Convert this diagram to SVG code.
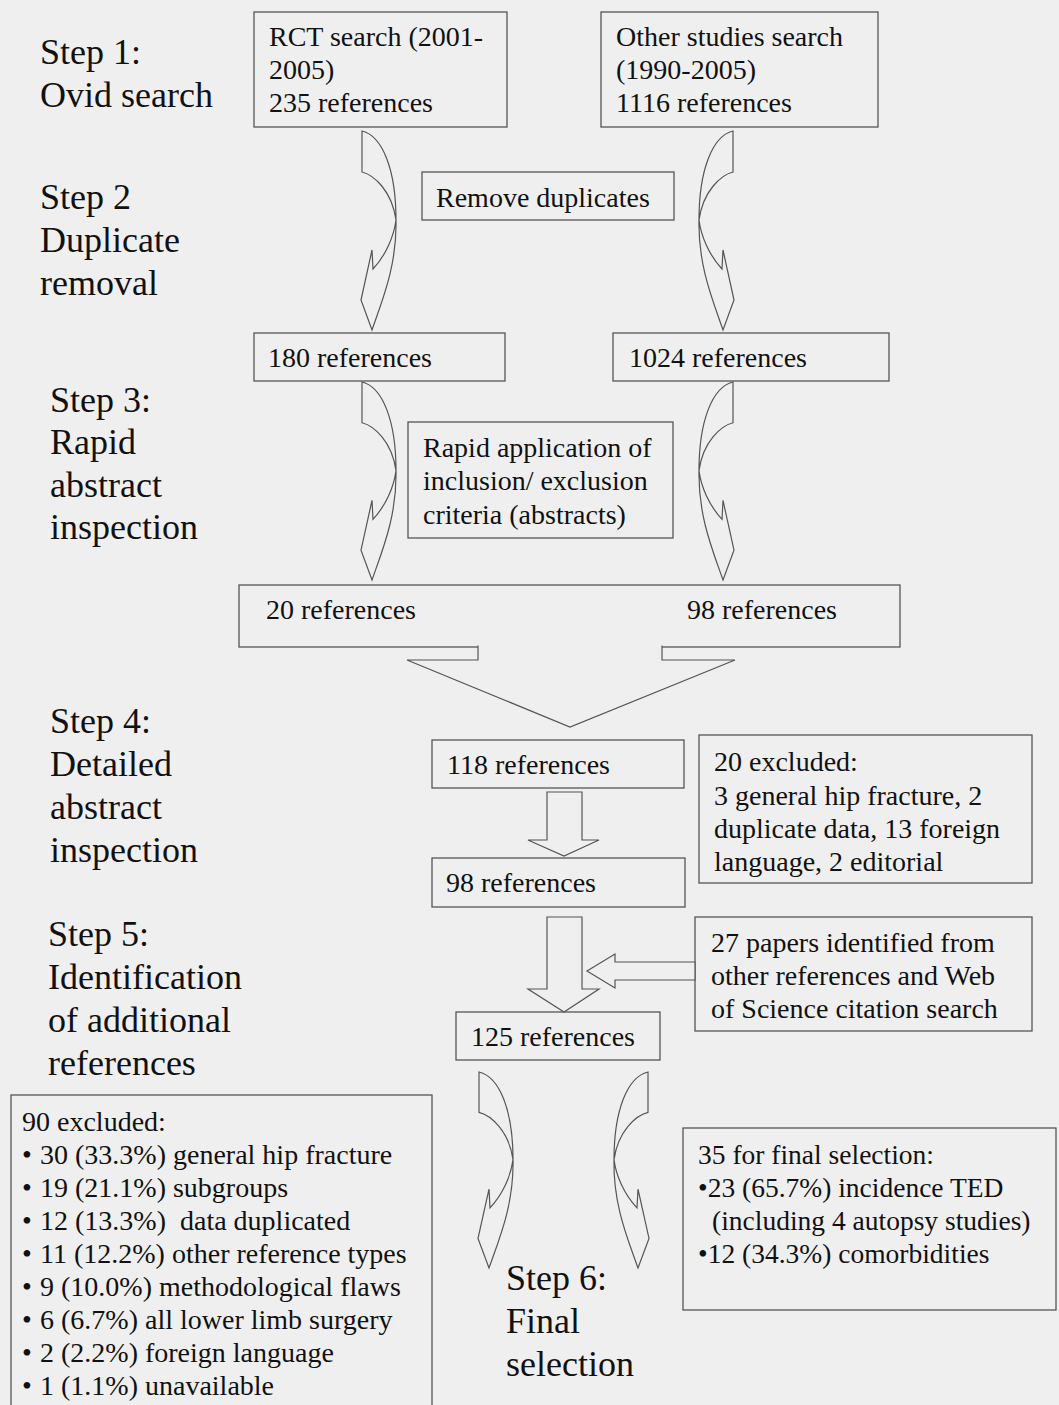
<svg xmlns="http://www.w3.org/2000/svg" xmlns:xlink="http://www.w3.org/1999/xlink" width="1059" height="1405" viewBox="0 0 1059 1405">
<style>
.bx{fill:none;stroke:#555;stroke-width:1.3}
.ar{fill:#efefef;stroke:#555;stroke-width:1.2;stroke-linejoin:miter}
text{font-family:"Liberation Serif","Times New Roman",serif;fill:#111}
.st{font-size:36px}
.t{font-size:28px}
.t2{font-size:27.5px}
.pre{white-space:pre}
</style>
<defs>
<path id="curv" d="M0,0 V41 C-12,44 -30,60 -34,89 C-32,105 -24,124 -11,138 L-10,119 L1,169 L-10,199 C-20,170 -35,135 -34,89 C-34,40 -21,5 0,0 Z"/>
</defs>
<rect width="1059" height="1405" fill="#efefef"/>

<g id="steps">
<text class="st" x="40" y="64">Step 1:</text>
<text class="st" x="40" y="107">Ovid search</text>
<text class="st" x="40" y="209">Step 2</text>
<text class="st" x="40" y="252">Duplicate</text>
<text class="st" x="40" y="295">removal</text>
<text class="st" x="50" y="412">Step 3:</text>
<text class="st" x="50" y="454">Rapid</text>
<text class="st" x="50" y="497">abstract</text>
<text class="st" x="50" y="539">inspection</text>
<text class="st" x="50" y="733">Step 4:</text>
<text class="st" x="50" y="776">Detailed</text>
<text class="st" x="50" y="819">abstract</text>
<text class="st" x="50" y="862">inspection</text>
<text class="st" x="48" y="946">Step 5:</text>
<text class="st" x="48" y="989">Identification</text>
<text class="st" x="48" y="1032">of additional</text>
<text class="st" x="48" y="1075">references</text>
<text class="st" x="506" y="1290">Step 6:</text>
<text class="st" x="506" y="1333">Final</text>
<text class="st" x="506" y="1376">selection</text>
</g>

<g id="rct">
<rect class="bx" x="254" y="12" width="253" height="115"/>
<text class="t" x="269" y="46">RCT search (2001-</text>
<text class="t" x="269" y="79">2005)</text>
<text class="t" x="269" y="112">235 references</text>
</g>
<g id="other">
<rect class="bx" x="601" y="12" width="277" height="115"/>
<text class="t" x="616" y="46">Other studies search</text>
<text class="t" x="616" y="79">(1990-2005)</text>
<text class="t" x="616" y="112">1116 references</text>
</g>
<g id="dup">
<rect class="bx" x="422" y="172" width="252" height="48"/>
<text class="t" x="436" y="207">Remove duplicates</text>
</g>
<g id="r180">
<rect class="bx" x="254" y="333" width="251" height="48"/>
<text class="t" x="268" y="367">180 references</text>
</g>
<g id="r1024">
<rect class="bx" x="613" y="333" width="276" height="48"/>
<text class="t" x="629" y="367">1024 references</text>
</g>
<g id="rapid">
<rect class="bx" x="408" y="422" width="265" height="116"/>
<text class="t" x="423" y="457">Rapid application of</text>
<text class="t" x="423" y="490">inclusion/ exclusion</text>
<text class="t" x="423" y="524">criteria (abstracts)</text>
</g>
<g id="r20_98">
<rect class="bx" x="239" y="585" width="661" height="62"/>
<text class="t" x="266" y="619">20 references</text>
<text class="t" x="687" y="619">98 references</text>
</g>
<g id="r118">
<rect class="bx" x="432" y="740" width="252" height="48"/>
<text class="t" x="447" y="774">118 references</text>
</g>
<g id="excl20">
<rect class="bx" x="699" y="735" width="333" height="148"/>
<text class="t" x="714" y="771">20 excluded:</text>
<text class="t" x="714" y="805">3 general hip fracture, 2</text>
<text class="t" x="714" y="838">duplicate data, 13 foreign</text>
<text class="t" x="714" y="871">language, 2 editorial</text>
</g>
<g id="r98">
<rect class="bx" x="432" y="858" width="253" height="49"/>
<text class="t" x="446" y="892">98 references</text>
</g>
<g id="papers27">
<rect class="bx" x="695" y="917" width="337" height="114"/>
<text class="t" x="711" y="952">27 papers identified from</text>
<text class="t" x="711" y="985">other references and Web</text>
<text class="t" x="711" y="1018">of Science citation search</text>
</g>
<g id="r125">
<rect class="bx" x="456" y="1012" width="204" height="48"/>
<text class="t" x="471" y="1046">125 references</text>
</g>
<g id="excl90">
<rect class="bx" x="11" y="1095" width="421" height="320"/>
<text class="t" x="22" y="1131">90 excluded:</text>
<text class="t" y="1164"><tspan x="22">•</tspan><tspan x="40">30 (33.3%) general hip fracture</tspan></text>
<text class="t" y="1197"><tspan x="22">•</tspan><tspan x="40">19 (21.1%) subgroups</tspan></text>
<text class="t pre" y="1230"><tspan x="22">•</tspan><tspan x="40">12 (13.3%)  data duplicated</tspan></text>
<text class="t" y="1263"><tspan x="22">•</tspan><tspan x="40">11 (12.2%) other reference types</tspan></text>
<text class="t" y="1296"><tspan x="22">•</tspan><tspan x="40">9 (10.0%) methodological flaws</tspan></text>
<text class="t" y="1329"><tspan x="22">•</tspan><tspan x="40">6 (6.7%) all lower limb surgery</tspan></text>
<text class="t" y="1362"><tspan x="22">•</tspan><tspan x="40">2 (2.2%) foreign language</tspan></text>
<text class="t" y="1395"><tspan x="22">•</tspan><tspan x="40">1 (1.1%) unavailable</tspan></text>
</g>
<g id="final35">
<rect class="bx" x="683" y="1128" width="373" height="182"/>
<text class="t2" x="698" y="1164">35 for final selection:</text>
<text class="t2" x="698" y="1197">•23 (65.7%) incidence TED</text>
<text class="t2" x="712" y="1230">(including 4 autopsy studies)</text>
<text class="t2" x="698" y="1263">•12 (34.3%) comorbidities</text>
</g>

<g id="connectors">
<use xlink:href="#curv" class="ar" transform="translate(362,131) scale(-1,1)"/>
<use xlink:href="#curv" class="ar" transform="translate(733,131)"/>
<use xlink:href="#curv" class="ar" transform="translate(362,382) scale(-1,0.995)"/>
<use xlink:href="#curv" class="ar" transform="translate(733,382) scale(1,0.995)"/>
<use xlink:href="#curv" class="ar" transform="translate(479,1072) scale(-1,0.985)"/>
<use xlink:href="#curv" class="ar" transform="translate(648,1072) scale(1,0.985)"/>
<path class="ar" d="M478,645.5 V660 H407 L570,727 L735,660 H662 V645.5"/>
<polygon class="ar" points="547,792 582,792 582,840 599,840 564,856 528,840 547,840"/>
<polygon class="ar" points="547,917 582,917 582,989 599,989 564,1012 528,989 547,989"/>
<polygon class="ar" points="695,962 615,962 615,954 587,971 615,988 615,980 695,980"/>
</g>
</svg>
